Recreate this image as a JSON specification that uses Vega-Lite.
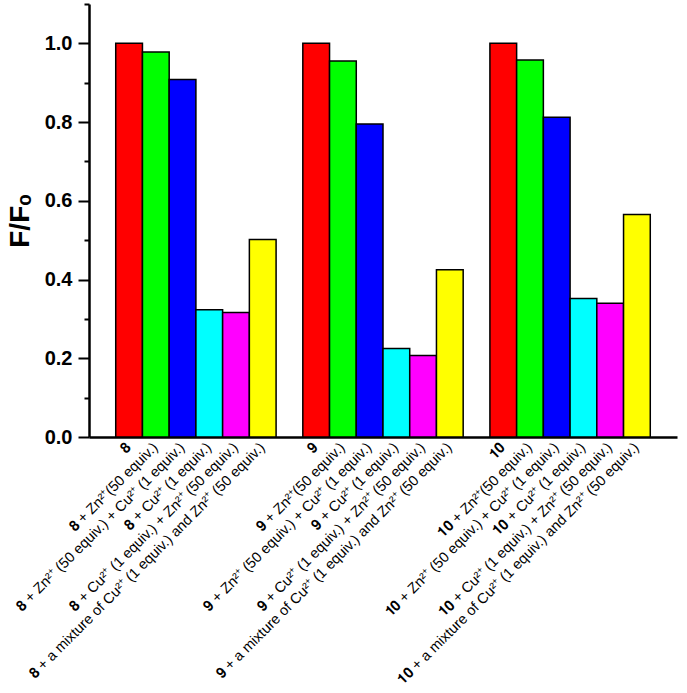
{
  "$schema": "https://vega.github.io/schema/vega-lite/v6.json",
  "width": 588,
  "height": 433,
  "autosize": {"type": "none"},
  "padding": {"left": 89, "top": 4, "right": 10, "bottom": 256},
  "background": "white",
  "config": {"view": {"stroke": null}},
  "data": {
    "values": [
      {"label": "𝟖", "cond": "c1", "value": 1.0},
      {"label": "𝟖 + Zn²⁺(50 equiv.)", "cond": "c2", "value": 0.978},
      {"label": "𝟖 + Zn²⁺ (50 equiv.) + Cu²⁺ (1 equiv.)", "cond": "c3", "value": 0.908},
      {"label": "𝟖 + Cu²⁺ (1 equiv.)", "cond": "c4", "value": 0.323},
      {"label": "𝟖 + Cu²⁺ (1 equiv.) + Zn²⁺ (50 equiv.)", "cond": "c5", "value": 0.316},
      {"label": "𝟖 + a mixture of Cu²⁺ (1 equiv.) and Zn²⁺ (50 equiv.)", "cond": "c6", "value": 0.502},
      {"label": "𝟗", "cond": "c1", "value": 1.0},
      {"label": "𝟗 + Zn²⁺(50 equiv.)", "cond": "c2", "value": 0.955},
      {"label": "𝟗 + Zn²⁺ (50 equiv.) + Cu²⁺ (1 equiv.)", "cond": "c3", "value": 0.795},
      {"label": "𝟗 + Cu²⁺ (1 equiv.)", "cond": "c4", "value": 0.225},
      {"label": "𝟗 + Cu²⁺ (1 equiv.) + Zn²⁺ (50 equiv.)", "cond": "c5", "value": 0.207},
      {"label": "𝟗 + a mixture of Cu²⁺ (1 equiv.) and Zn²⁺ (50 equiv.)", "cond": "c6", "value": 0.425},
      {"label": "𝟏𝟎", "cond": "c1", "value": 1.0},
      {"label": "𝟏𝟎 + Zn²⁺(50 equiv.)", "cond": "c2", "value": 0.958},
      {"label": "𝟏𝟎 + Zn²⁺ (50 equiv.) + Cu²⁺ (1 equiv.)", "cond": "c3", "value": 0.812},
      {"label": "𝟏𝟎 + Cu²⁺ (1 equiv.)", "cond": "c4", "value": 0.352},
      {"label": "𝟏𝟎 + Cu²⁺ (1 equiv.) + Zn²⁺ (50 equiv.)", "cond": "c5", "value": 0.340},
      {"label": "𝟏𝟎 + a mixture of Cu²⁺ (1 equiv.) and Zn²⁺ (50 equiv.)", "cond": "c6", "value": 0.565}
    ]
  },
  "mark": {"type": "bar", "stroke": "black", "strokeWidth": 1.5, "opacity": 1},
  "encoding": {
    "x": {
      "field": "label",
      "type": "nominal",
      "scale": {
        "domain": [
          "𝟖", "𝟖 + Zn²⁺(50 equiv.)", "𝟖 + Zn²⁺ (50 equiv.) + Cu²⁺ (1 equiv.)", "𝟖 + Cu²⁺ (1 equiv.)", "𝟖 + Cu²⁺ (1 equiv.) + Zn²⁺ (50 equiv.)", "𝟖 + a mixture of Cu²⁺ (1 equiv.) and Zn²⁺ (50 equiv.)",
          "gap1",
          "𝟗", "𝟗 + Zn²⁺(50 equiv.)", "𝟗 + Zn²⁺ (50 equiv.) + Cu²⁺ (1 equiv.)", "𝟗 + Cu²⁺ (1 equiv.)", "𝟗 + Cu²⁺ (1 equiv.) + Zn²⁺ (50 equiv.)", "𝟗 + a mixture of Cu²⁺ (1 equiv.) and Zn²⁺ (50 equiv.)",
          "gap2",
          "𝟏𝟎", "𝟏𝟎 + Zn²⁺(50 equiv.)", "𝟏𝟎 + Zn²⁺ (50 equiv.) + Cu²⁺ (1 equiv.)", "𝟏𝟎 + Cu²⁺ (1 equiv.)", "𝟏𝟎 + Cu²⁺ (1 equiv.) + Zn²⁺ (50 equiv.)", "𝟏𝟎 + a mixture of Cu²⁺ (1 equiv.) and Zn²⁺ (50 equiv.)"
        ],
        "paddingInner": 0,
        "paddingOuter": 1
      },
      "axis": {
        "title": null,
        "ticks": false,
        "domainColor": "black",
        "domainWidth": 2.5,
        "labelAngle": -45,
        "labelAlign": "right",
        "labelBaseline": "middle",
        "labelPadding": 8,
        "labelFont": "Liberation Sans",
        "labelFontSize": 14.5,
        "labelColor": "black",
        "labelOverlap": false,
        "labelLimit": 1000,
        "labelExpr": "indexof(datum.value, 'gap') == 0 ? '' : datum.value"
      }
    },
    "y": {
      "field": "value",
      "type": "quantitative",
      "scale": {"domain": [0, 1.1], "nice": false},
      "axis": {
        "title": "F/Fₒ",
        "titleFont": "Liberation Sans",
        "titleFontSize": 28,
        "titleFontWeight": "bold",
        "titleColor": "black",
        "titlePadding": 10,
        "values": [0, 0.1, 0.2, 0.3, 0.4, 0.5, 0.6, 0.7, 0.8, 0.9, 1.0, 1.1],
        "grid": false,
        "domainColor": "black",
        "domainWidth": 2.5,
        "tickColor": "black",
        "tickWidth": 2,
        "tickSize": {"condition": {"test": "round(datum.value * 10) % 2 == 0", "value": 11}, "value": 5},
        "labelExpr": "round(datum.value * 10) % 2 == 0 ? format(datum.value, '.1f') : ''",
        "labelFont": "Liberation Sans",
        "labelFontSize": 20,
        "labelFontWeight": "bold",
        "labelColor": "black",
        "labelPadding": 6
      }
    },
    "color": {
      "field": "cond",
      "type": "nominal",
      "scale": {
        "domain": ["c1", "c2", "c3", "c4", "c5", "c6"],
        "range": ["#FF0000", "#00FF00", "#0000FF", "#00FFFF", "#FF00FF", "#FFFF00"]
      },
      "legend": null
    }
  }
}
